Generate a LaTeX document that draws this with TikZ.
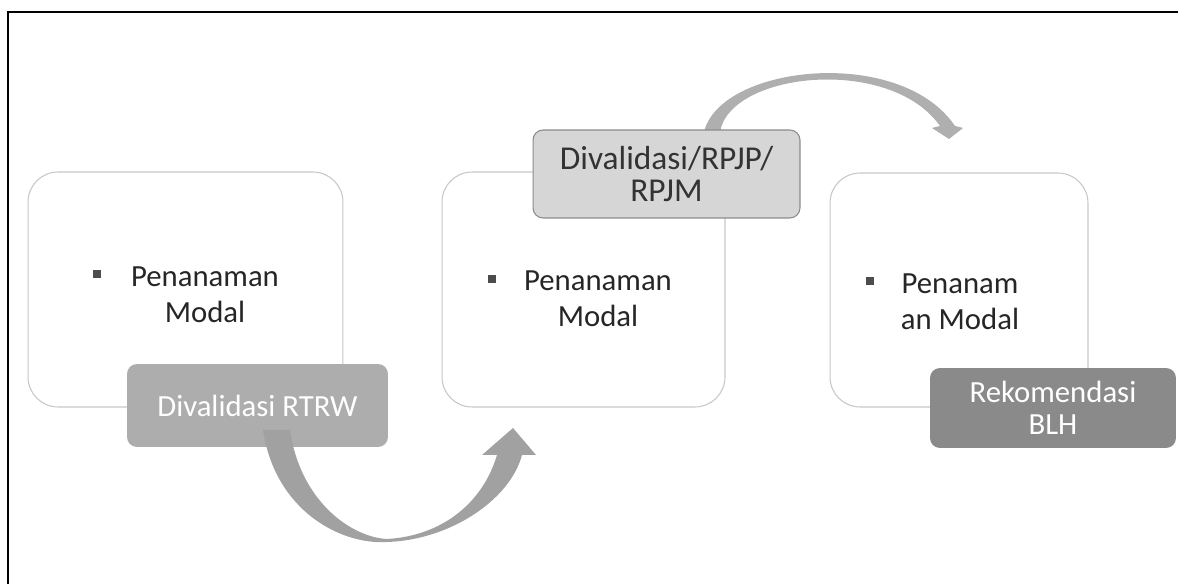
\documentclass[tikz,border=0pt]{standalone}
\usepackage{fontspec}
\setmainfont{Carlito}
\usepackage{tikz}
\usetikzlibrary{positioning}
\definecolor{edgegrey}{gray}{0.78}
\definecolor{tagone}{gray}{0.68}
\definecolor{tagtwo}{gray}{0.84}
\definecolor{tagthree}{gray}{0.54}
\definecolor{arrowgrey}{gray}{0.63}
\definecolor{dotgrey}{gray}{0.3}
\tikzset{stage/.style = {draw=edgegrey, line width=0.6pt, rounded corners=0.6cm,
                         fill=white, minimum height=4.7cm, inner sep=0}}
\tikzset{tag/.style = {rounded corners=0.2cm, inner sep=0, align=center,
                       font=\fontsize{17.5}{18.5}\selectfont}}
\tikzset{itemtext/.style = {anchor=north, inner sep=0, align=center, text=black!85,
                            font=\fontsize{17.5}{21}\selectfont}}
\tikzset{sqbullet/.style = {fill=dotgrey, minimum size=0.16cm, inner sep=0}}
\tikzset{frame/.style = {line width=1.1pt, black}}

\begin{document}
\begin{tikzpicture}[x=0.02cm, y=-0.02cm]
      \useasboundingbox (0,0) rectangle (1178,584);
      \draw [frame] (8,584) -- (8,12) -- (1178,12);

      \node [stage, minimum width=6.3cm] (box1) at (185.5,289.5) {};
      \node [stage, minimum width=5.66cm] (box2) at (583.5,289.5) {};
      \node [stage, minimum width=5.16cm, minimum height=4.68cm] (box3) at (959,290) {};

      \node [sqbullet] (dot1) at (97,274) {};
      \node [itemtext] (txt1) at (205,266) {Penanaman\\Modal};
      \node [sqbullet] (dot2) at (492,279) {};
      \node [itemtext] (txt2) at (598,270) {Penanaman\\Modal};
      \node [sqbullet] (dot3) at (870,281) {};
      \node [itemtext] (txt3) at (960,273) {Penanam\\an Modal};

      \fill [arrowgrey!85] (704,132) .. controls (720,65) and (900,45) .. (955,126)
            -- (963,128) -- (949,139) -- (932,128) -- (940,126)
            .. controls (890,55) and (730,72) .. (720,132) -- cycle;

      \node [tag, fill=tagone, text=white, minimum width=5.22cm, minimum height=1.66cm] (tag1) at (257.5,405.5) {Divalidasi RTRW};
      \node [tag, fill=tagtwo, draw=black!45, line width=0.6pt, text=black!80, minimum width=5.34cm, minimum height=1.76cm,
             font=\fontsize{19}{18.5}\selectfont] (tag2) at (666.5,174) {Divalidasi/RPJP/\\RPJM};
      \node [tag, fill=tagthree, text=white, minimum width=4.92cm, minimum height=1.6cm] (tag3) at (1053,408) {Rekomendasi\\BLH};

      \fill [arrowgrey] (263,430) .. controls (275,510) and (340,545) .. (387,542)
            .. controls (450,540) and (510,500) .. (522,455)
            -- (536,455) -- (513,428) -- (482,455) -- (497,455)
            .. controls (482,505) and (440,536) .. (387,539)
            .. controls (350,537) and (300,500) .. (290,430) -- cycle;
    \end{tikzpicture}
\end{document}
